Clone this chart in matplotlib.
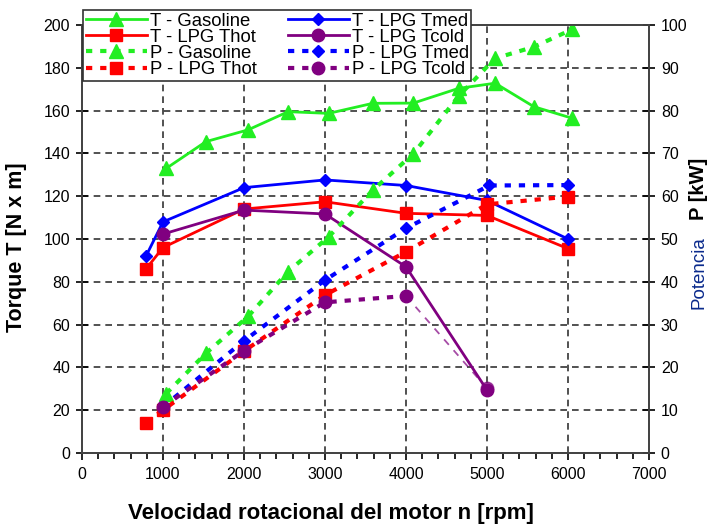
import matplotlib.pyplot as plt
from matplotlib.ticker import MultipleLocator

plt.rcParams['font.family'] = ['Liberation Sans', 'DejaVu Sans']

# gasoline run
rpm_gas = [1040, 1530, 2050, 2545, 3045, 3590, 4090, 4650, 5100, 5580, 6055]
torque_gas = [133, 145.5, 151, 159.5, 158.7, 163.4, 163.5, 170.4, 172.8, 161.8, 156.4]
power_gas = [13.9, 23.3, 31.9, 42.4, 50.5, 61.4, 69.9, 83.4, 92.2, 94.9, 99.0]

# LPG, hot engine
rpm_thot = [790, 1000, 2000, 3000, 4000, 5000, 6000]
torque_thot = [86, 96, 114, 117.4, 112, 111, 95.5]
power_thot = [7.1, 10, 23.8, 36.9, 47, 58.1, 59.9]

# LPG, medium temperature
rpm_tmed_t = [790, 1000, 2000, 3000, 4000, 5000, 6000]
torque_tmed = [92, 108, 124, 127.6, 125, 118, 100]
rpm_tmed_p = [1000, 2000, 3000, 4000, 5030, 6000]
power_tmed = [10.8, 26.2, 40.4, 52.5, 62.5, 62.6]

# LPG, cold engine
rpm_tcold = [1000, 2000, 3000, 4000, 5000]
torque_tcold = [102.3, 113.5, 111.7, 87, 29.4]
power_tcold = [10.8, 23.9, 35.2, 36.7, 15.1]

GREEN = '#22ee22'
RED = '#ff0000'
BLUE = '#0000ff'
PURPLE = '#800080'
DASH = (0, (1.5, 1.9))

fig = plt.figure(figsize=(7.12, 5.29), dpi=100)
ax = fig.add_axes([82 / 712, 76 / 529, 567 / 712, 428 / 529])
ax2 = ax.twinx()

# torque, left axis
l1, = ax.plot(rpm_gas, torque_gas, color=GREEN, lw=2, marker='^', ms=10, label='T - Gasoline')
l2, = ax.plot(rpm_thot, torque_thot, color=RED, lw=2, marker='s', ms=9, label='T - LPG Thot')
l5, = ax.plot(rpm_tmed_t, torque_tmed, color=BLUE, lw=2, marker='D', ms=6.5, label='T - LPG Tmed')
l6, = ax.plot(rpm_tcold, torque_tcold, color=PURPLE, lw=2, marker='o', ms=9, label='T - LPG Tcold')

# power, right axis
l3, = ax2.plot(rpm_gas, power_gas, color=GREEN, lw=3, ls=DASH, marker='^', ms=10, label='P - Gasoline')
l4, = ax2.plot(rpm_thot, power_thot, color=RED, lw=3, ls=DASH, marker='s', ms=9, label='P - LPG Thot')
l7, = ax2.plot(rpm_tmed_p, power_tmed, color=BLUE, lw=3, ls=DASH, marker='D', ms=6.5, label='P - LPG Tmed')
l8, = ax2.plot(rpm_tcold[:4], power_tcold[:4], color=PURPLE, lw=3, ls=DASH, marker='o', ms=9,
               label='P - LPG Tcold')
ax2.plot(rpm_tcold[3:], power_tcold[3:], color=PURPLE, lw=1.3, ls=(0, (4, 4)), alpha=0.7,
         marker='o', ms=9, markevery=[1])

ax.set_xlim(0, 7000)
ax.set_ylim(0, 200)
ax2.set_ylim(0, 100)
ax.xaxis.set_major_locator(MultipleLocator(1000))
ax.xaxis.set_minor_locator(MultipleLocator(200))
ax.yaxis.set_major_locator(MultipleLocator(20))
ax2.yaxis.set_major_locator(MultipleLocator(10))

ax.grid(True, color='#333333', lw=1.2, ls=(0, (4, 3)))
ax.set_axisbelow(True)

ax.tick_params(axis='x', which='major', direction='out', length=5, width=1.2, labelsize=11.5, pad=5)
ax.tick_params(axis='x', which='minor', direction='out', length=4, width=1.2)
ax.tick_params(axis='y', direction='inout', length=9, width=1.2, labelsize=11.5, pad=4)
ax2.tick_params(axis='y', direction='inout', length=9, width=1.2, labelsize=11.5, pad=4)
for a in (ax, ax2):
    for s in a.spines.values():
        s.set_color('#444444')
        s.set_linewidth(1.3)

fig.text(331 / 712, 15 / 529, 'Velocidad rotacional del motor n [rpm]', ha='center', va='center',
         fontsize=16, fontweight='bold')
fig.text(17 / 712, 1 - 247 / 529, 'Torque T [N x m]', ha='center', va='center', rotation=90,
         fontsize=15.5, fontweight='bold')
fig.text(699 / 712, 1 - 236 / 529, 'Potencia', ha='center', va='top', rotation=90,
         fontsize=13.5, color='#0a2a8c')
fig.text(699 / 712, 1 - 220 / 529, 'P [kW]', ha='center', va='bottom', rotation=90,
         fontsize=14.5, fontweight='bold')

handles = [l1, l2, l3, l4, l5, l6, l7, l8]
leg = ax2.legend(handles=handles, ncol=2, loc='upper left', bbox_to_anchor=(83 / 712, 1 - 10 / 529),
                 bbox_transform=fig.transFigure, fontsize=13.3, frameon=True, fancybox=False,
                 framealpha=1, edgecolor='#333333', handlelength=3.3, labelspacing=-0.05,
                 columnspacing=1.7, borderpad=0.15, handletextpad=0.15, borderaxespad=0)
leg.get_frame().set_linewidth(1.2)

fig.savefig('out.png', dpi=100)
